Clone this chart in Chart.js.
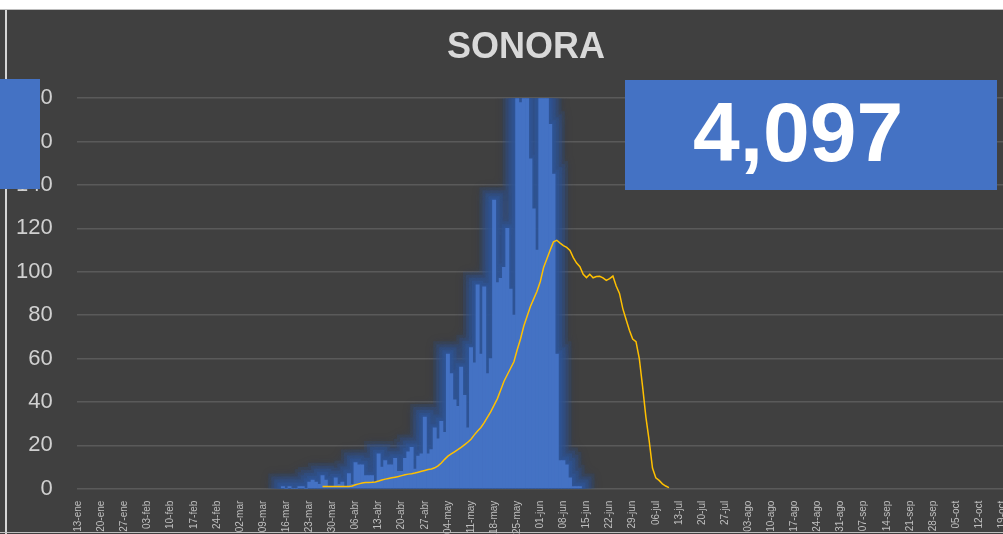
<!DOCTYPE html>
<html lang="es">
<head>
<meta charset="utf-8">
<title>SONORA</title>
<script src="https://cdn.jsdelivr.net/npm/chart.js@4.4.1/dist/chart.umd.min.js"></script>
<style>
  html, body { margin: 0; padding: 0; width: 1003px; height: 534px; overflow: hidden; background: #404040; }
  #wrap { position: absolute; left: -8px; top: 0; width: 1092px; height: 534px; }
  .tira { position: absolute; left: 0; top: 0; width: 1003px; height: 9px; background: #fff; border-bottom: 1px solid #bdbdbd; }
  .linea-izq { position: absolute; left: 5px; top: 10px; width: 2px; height: 524px; background: #d6d6d6; }
  .linea-inf { position: absolute; left: 0; top: 532px; width: 1003px; height: 1px; background: #bdbdbd; }
  .caja { position: absolute; background: #4472c4; }
  .total { position: absolute; left: 68px; top: 10px; font: bold 84px "Liberation Sans", Arial, sans-serif; line-height: 84px; color: #fff; }
</style>
</head>
<body>
<div id="wrap"><canvas id="grafica"></canvas></div>
<div class="tira"></div>
<div class="linea-izq"></div>
<div class="linea-inf"></div>
<div class="caja" style="left:0;top:79px;width:40px;height:110px"></div>
<div class="caja" style="left:625px;top:80px;width:372px;height:110px"><span class="total">4,097</span></div>
<script>
'use strict';

// Etiquetas visibles del eje X (una por semana)
const etiquetasSemana = [
  '13-ene', '20-ene', '27-ene', '03-feb', '10-feb', '17-feb', '24-feb', '02-mar', '09-mar',
  '16-mar', '23-mar', '30-mar', '06-abr', '13-abr', '20-abr', '27-abr', '04-may', '11-may',
  '18-may', '25-may', '01-jun', '08-jun', '15-jun', '22-jun', '29-jun', '06-jul', '13-jul',
  '20-jul', '27-jul', '03-ago', '10-ago', '17-ago', '24-ago', '31-ago', '07-sep', '14-sep',
  '21-sep', '28-sep', '05-oct', '12-oct', '19-oct', '26-oct', '02-nov',
];
const meses = ['ene', 'feb', 'mar', 'abr', 'may', 'jun', 'jul', 'ago', 'sep', 'oct', 'nov', 'dic'];
const totalDias = 298;

// Casos diarios, a partir del 15-mar
const inicioCasos = '15-mar';
const casosDiarios = [
  1, 0, 1, 0, 0, 1, 1, 0, 3, 4, 3, 2, 6, 4, 1, 1, 5, 2, 3, 1, 7, 2,
  12, 11, 11, 6, 6, 6, 3, 16, 10, 13, 11, 11, 14, 8, 8, 14, 17, 19, 9, 15, 16,
  33, 16, 18, 28, 23, 31, 26, 62, 53, 41, 38, 56, 43, 28, 65, 58, 94, 62, 93, 53, 60,
  133, 95, 97, 102, 120, 92, 80, 185, 178, 190, 182, 152, 129, 110, 195, 187, 185,
  168, 145, 62, 13, 13, 11, 5, 1, 1, 1,
];

// Promedio movil, a partir del 27-mar
const inicioPromedio = '27-mar';
const promedioMovil = [
  1, 1, 1, 1, 1, 1, 1, 1, 1,
  1.2, 1.8, 2.2, 2.6, 2.8, 2.8, 2.9, 3.1,
  3.5, 4.0, 4.4, 4.7, 5.0, 5.3, 5.6, 6.0, 6.4,
  6.7, 6.9, 7.2, 7.6, 8.0, 8.4, 8.8, 9.1, 9.6,
  10.5, 11.8, 13.5, 15.0, 16.0, 17.0, 18.0, 19.0, 20.2, 21.4,
  22.8, 24.8, 26.6, 28.2, 30.4, 33.0, 35.5, 38.5, 41.5, 45.5,
  49.5, 52.5, 55.5, 58.5, 64, 69, 75, 79.5, 84, 87.5,
  91, 95.5, 102, 106, 110, 113.8, 114.5, 113.2, 112, 111.2,
  109.8, 106.5, 104, 102.3, 98.8, 97.3, 98.8, 97.2, 97.8, 97.9,
  97.2, 96, 96.8, 98, 93.4, 90, 83, 78, 73, 69,
  67.8, 60, 47, 33, 22, 9.5, 5, 3.8, 2.2, 1.2, 0.5,
];

const ticksY = [0, 20, 40, 60, 80, 100, 120, 140, 160, 180];

// Categorias diarias desde el 13-ene-2020
const dias = [];
for (let i = 0; i < totalDias; i++) {
  const f = new Date(2020, 0, 13 + i);
  dias.push(String(f.getDate()).padStart(2, '0') + '-' + meses[f.getMonth()]);
}

const serie = (inicio, valores) => {
  const out = new Array(dias.length).fill(null);
  const i0 = dias.indexOf(inicio);
  valores.forEach((v, i) => { out[i0 + i] = v; });
  return out;
};

// Resplandor azul alrededor de las barras (como el "glow" de Excel)
const brillo = {
  id: 'brillo',
  beforeDatasetDraw(chart, args) {
    if (args.index !== 0) return;
    const { ctx, chartArea: a } = chart;
    const capas = [
      { m: 13, color: 'rgba(47,85,151,0.18)' },
      { m: 10, color: 'rgba(47,85,151,0.25)' },
      { m: 7, color: 'rgba(47,85,151,0.35)' },
      { m: 4, color: 'rgba(47,85,151,0.5)' },
      { m: 2, color: 'rgba(47,85,151,0.6)' },
    ];
    const barras = args.meta.data
      .map(bar => bar.getProps(['x', 'y', 'base', 'width'], true))
      .filter(p => isFinite(p.y) && p.base - p.y >= 0.5);
    ctx.save();
    ctx.beginPath();
    ctx.rect(a.left, a.top, a.right - a.left, a.bottom - a.top);
    ctx.clip();
    ctx.shadowColor = 'rgba(47,85,151,0.55)';
    ctx.shadowBlur = 10;
    capas.forEach(({ m, color }) => {
      ctx.beginPath();
      barras.forEach(p => {
        const top = Math.max(p.y, a.top - 20);
        ctx.rect(p.x - p.width / 2 - m, top - m, p.width + 2 * m, p.base - top + 2 * m);
      });
      ctx.fillStyle = color;
      ctx.fill();
    });
    ctx.restore();
  },
};

const fuente = '"Liberation Sans", Arial, sans-serif';

new Chart(document.getElementById('grafica'), {
  type: 'bar',
  data: {
    labels: dias,
    datasets: [
      {
        type: 'bar',
        label: 'Casos diarios',
        data: serie(inicioCasos, casosDiarios),
        backgroundColor: '#4472c4',
        borderWidth: 0,
        categoryPercentage: 1,
        barPercentage: 1,
        clip: 0,
        order: 1,
      },
      {
        type: 'line',
        label: 'Promedio',
        data: serie(inicioPromedio, promedioMovil),
        borderColor: '#ffc000',
        borderWidth: 1.5,
        pointRadius: 0,
        tension: 0,
        spanGaps: false,
        order: 0,
      },
    ],
  },
  options: {
    responsive: true,
    maintainAspectRatio: false,
    animation: false,
    layout: { padding: { left: 0, right: 24, top: 26, bottom: -4 } },
    plugins: {
      legend: { display: false },
      tooltip: { enabled: false },
      title: {
        display: true,
        text: 'SONORA',
        color: '#d9d9d9',
        font: { family: fuente, size: 36, weight: 'bold' },
        padding: { top: 0, bottom: 29 },
      },
    },
    scales: {
      x: {
        grid: { display: false },
        border: { display: false },
        ticks: {
          autoSkip: false,
          minRotation: 90,
          maxRotation: 90,
          padding: 4,
          color: '#bfbfbf',
          font: { family: fuente, size: 10 },
          callback: (v, i) => (i % 7 === 0 ? etiquetasSemana[i / 7] : ''),
        },
      },
      y: {
        min: 0,
        max: 180,
        afterBuildTicks: (axis) => { axis.ticks = ticksY.map(v => ({ value: v })); },
        grid: { color: '#5a5a5a', lineWidth: 1.5, drawTicks: false },
        border: { display: false },
        ticks: {
          padding: 24,
          color: '#d0d0d0',
          font: { family: fuente, size: 22 },
        },
      },
    },
  },
  plugins: [brillo],
});
</script>
</body>
</html>
